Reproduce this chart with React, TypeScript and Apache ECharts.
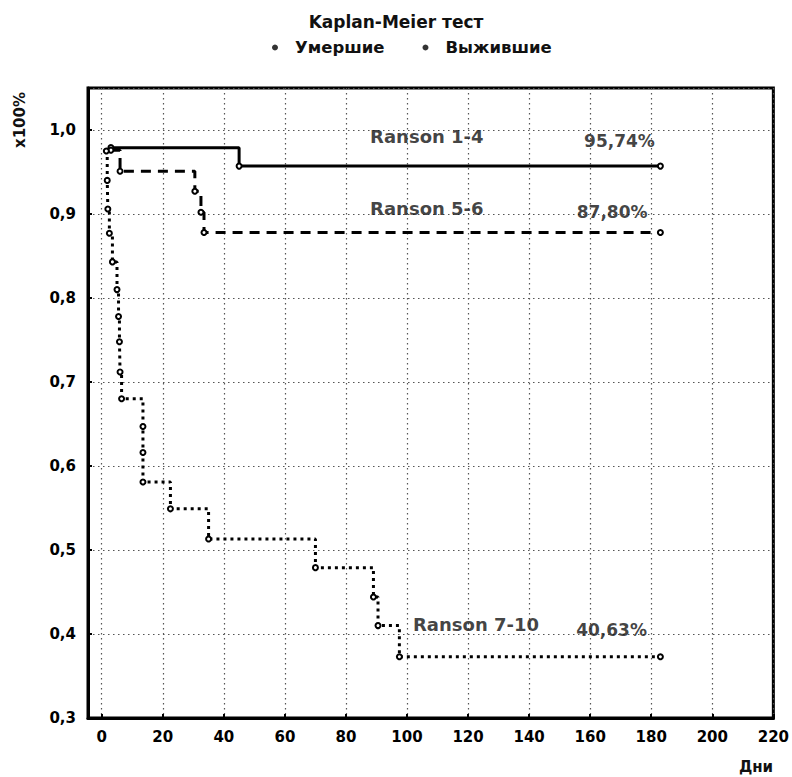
import React, { useEffect, useRef } from 'react';
import * as echarts from 'echarts';

// ---- data ----
const r14Days = [3, 45, 183];
const r14Surv = [0.979, 0.957, 0.957];

const r56Days = [3, 6, 30.5, 32.5, 33.5, 183];
const r56Surv = [0.976, 0.951, 0.927, 0.902, 0.878, 0.878];

const r710Days = [1.5, 1.8, 2, 2.5, 3.5, 5, 5.5, 5.8, 6, 6.5, 13.5, 13.5, 13.5, 22.5, 35, 70, 89, 90.5, 97.5, 183];
const r710Surv = [0.975, 0.94, 0.906, 0.877, 0.843, 0.81, 0.778, 0.748, 0.712, 0.68, 0.647, 0.616, 0.581, 0.549, 0.513, 0.479, 0.444, 0.41, 0.373, 0.373];

const groupNames = ['Ranson 1-4', 'Ranson 5-6', 'Ranson 7-10'];
const finalPct = ['95,74%', '87,80%', '40,63%'];
const legendNames = ['Умершие', 'Выжившие'];
const titleText = 'Kaplan-Meier тест';
const yAxisName = 'x100%';
const xAxisName = 'Дни';

const FONT = 'DejaVu Sans';

export default function App() {
  const ref = useRef<HTMLDivElement>(null);

  useEffect(() => {
    if (!ref.current) return;
    const chart = echarts.init(ref.current, undefined, { renderer: 'svg' });

    const pts = (d: number[], s: number[]) => d.map((x, i) => [x, s[i]]);

    const lineSeries = (name: string, data: number[][], lineType: any) => ({
      name,
      type: 'line',
      step: 'end',
      data,
      showSymbol: true,
      symbol: 'emptyCircle',
      symbolSize: 5,
      itemStyle: { color: '#000', borderColor: '#000', borderWidth: 1.5 },
      lineStyle: { color: '#000', width: 3, type: lineType },
      z: 3,
    });

    // label anchor points (layout, in data coordinates)
    const nameAt = [[106.5, 0.992], [106.5, 0.906], [122.6, 0.411]];
    const pctAt = [[169.6, 0.987], [167.2, 0.902], [167, 0.405]];

    const annData = [
      ...groupNames.map((n, i) => ({ value: nameAt[i], name: n, label: { fontSize: 18 } })),
      ...finalPct.map((n, i) => ({ value: pctAt[i], name: n, label: { fontSize: 17 } })),
    ];

    chart.setOption({
      animation: false,
      backgroundColor: '#fff',
      title: {
        text: titleText,
        left: 'center',
        top: 8,
        textStyle: { fontFamily: FONT, fontSize: 17, fontWeight: 'bold', color: '#111' },
      },
      legend: {
        data: legendNames,
        left: 267,
        top: 34,
        icon: 'circle',
        itemWidth: 6,
        itemHeight: 6,
        itemGap: 38,
        textStyle: { fontFamily: FONT, fontSize: 16.5, fontWeight: 'bold', color: '#111', padding: [0, 0, 0, 12] },
      },
      grid: {
        left: 88,
        right: 13,
        top: 88,
        bottom: 59,
        show: true,
        borderColor: '#000',
        borderWidth: 3,
      },
      xAxis: {
        type: 'value',
        min: -4.5,
        max: 220,
        splitNumber: 11,
        axisLine: { show: true, onZero: false, lineStyle: { color: '#000', width: 3 } },
        axisTick: { show: true, inside: true, length: 4, lineStyle: { color: '#000', width: 2 } },
        axisLabel: {
          margin: 11,
          fontFamily: FONT,
          fontSize: 15,
          fontWeight: 'bold',
          color: '#000',
          formatter: (v: number) => (Math.abs(v % 20) < 1e-6 ? String(Math.round(v)) : ''),
        },
        splitLine: { show: true, lineStyle: { color: '#555', width: 1.2, type: [1.5, 3.5] } },
      },
      yAxis: {
        type: 'value',
        min: 0.3,
        max: 1.05,
        interval: 0.1,
        axisLine: { show: true, onZero: false, lineStyle: { color: '#000', width: 3 } },
        axisTick: { show: true, inside: true, length: 4, lineStyle: { color: '#000', width: 2 } },
        axisLabel: {
          margin: 12,
          fontFamily: FONT,
          fontSize: 15,
          fontWeight: 'bold',
          color: '#000',
          formatter: (v: number) => {
            const r = Math.round(v * 10);
            return Math.abs(v * 10 - r) < 1e-6 ? (r / 10).toFixed(1).replace('.', ',') : '';
          },
        },
        splitLine: { show: true, lineStyle: { color: '#555', width: 1.2, type: [1.5, 3.5] } },
      },
      graphic: [
        {
          type: 'text',
          x: 20,
          y: 120,
          rotation: Math.PI / 2,
          style: {
            text: yAxisName,
            fontFamily: FONT,
            fontSize: 15,
            fontWeight: 'bold',
            fill: '#111',
            align: 'center',
            verticalAlign: 'middle',
          },
        },
        {
          type: 'text',
          x: 756,
          y: 767,
          style: {
            text: xAxisName,
            fontFamily: FONT,
            fontSize: 15,
            fontWeight: 'bold',
            fill: '#111',
            align: 'center',
            verticalAlign: 'middle',
          },
        },
      ],
      series: [
        lineSeries(groupNames[0], pts(r14Days, r14Surv), 'solid'),
        lineSeries(groupNames[1], pts(r56Days, r56Surv), [10, 7]),
        lineSeries(groupNames[2], pts(r710Days, r710Surv), [3, 4]),
        {
          name: 'annotations',
          type: 'scatter',
          data: annData,
          symbolSize: 0,
          silent: true,
          z: 5,
          label: {
            show: true,
            position: [0, 0],
            align: 'center',
            verticalAlign: 'middle',
            formatter: (p: any) => p.name,
            fontFamily: FONT,
            fontSize: 17,
            fontWeight: 'bold',
            color: '#111',
          },
        },
        { name: legendNames[0], type: 'scatter', data: [], itemStyle: { color: '#000' } },
        { name: legendNames[1], type: 'scatter', data: [], itemStyle: { color: '#000' } },
      ],
    });

    return () => chart.dispose();
  }, []);

  return (
    <div
      ref={ref}
      style={{ position: 'fixed', left: 0, top: 0, width: 792, height: 777, background: '#fff' }}
    />
  );
}
